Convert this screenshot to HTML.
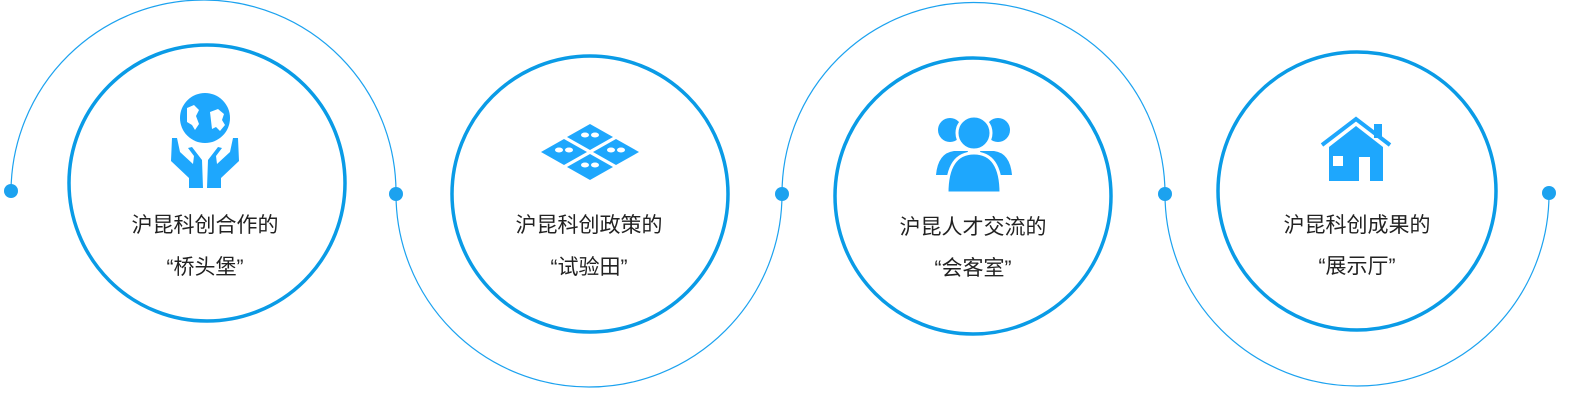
<!DOCTYPE html>
<html><head><meta charset="utf-8"><style>
html,body{margin:0;padding:0;background:#fff;width:1570px;height:400px;overflow:hidden}
svg text{font-family:"Liberation Sans","Noto Sans CJK SC",sans-serif;font-size:21px;fill:#222;text-anchor:middle}
</style></head><body>
<svg width="1570" height="400" viewBox="0 0 1570 400" xmlns="http://www.w3.org/2000/svg">
<g fill="none" stroke="#1ca2ef" stroke-width="1.2">
<path d="M11 191 A10 10 0 0 1 396 194"/>
<path d="M396 194 A10 10 0 0 0 782 194"/>
<path d="M782 194 A10 10 0 0 1 1165 194"/>
<path d="M1165 194 A10 10 0 0 0 1549 194"/>
</g>
<g fill="#1ca2ef">
<circle cx="11" cy="191" r="7"/><circle cx="396" cy="194" r="7"/><circle cx="782" cy="194" r="7"/><circle cx="1165" cy="194" r="7"/><circle cx="1549" cy="193" r="7"/>
</g>
<g fill="none" stroke="#0a9be6" stroke-width="3.5">
<circle cx="207" cy="183" r="138"/>
<circle cx="590" cy="194" r="138"/>
<circle cx="973" cy="196" r="138"/>
<circle cx="1357" cy="191" r="139"/>
</g>
<g fill="#1ea7fd">
<circle cx="205" cy="118" r="25"/>
<path d="M187 108 l7 -3 5 5 -3 6 3 8 -4 6 -3 -5 -5 -3z M210 112 l8 -3 6 5 -2 6 3 5 -5 6 -4 -4 -4 2z" fill="#fff"/>
<path d="M172 138 l5 0 3 14 13 12 1 -8 -6 -8 4 -1 10 13 1 28 -14 0 0 -10 -18 -17z"/>
<path d="M238 138 l-5 0 -3 14 -13 12 -1 -8 6 -8 -4 -1 -10 13 -1 28 14 0 0 -10 18 -17z"/>
<polygon points="590,124 613,137 590,150 567,137"/>
<polygon points="564,139 587,152 564,165 541,152"/>
<polygon points="616,139 639,152 616,165 593,152"/>
<polygon points="590,154 613,167 590,180 567,167"/>
<g fill="#fff"><ellipse cx="585" cy="135" rx="4" ry="2.5"/><ellipse cx="595" cy="135" rx="4" ry="2.5"/><ellipse cx="559" cy="150" rx="4" ry="2.5"/><ellipse cx="569" cy="150" rx="4" ry="2.5"/><ellipse cx="611" cy="150" rx="4" ry="2.5"/><ellipse cx="621" cy="150" rx="4" ry="2.5"/><ellipse cx="585" cy="165" rx="4" ry="2.5"/><ellipse cx="595" cy="165" rx="4" ry="2.5"/></g>
<circle cx="950" cy="130" r="12"/><circle cx="998" cy="130" r="12"/>
<path d="M936 175 q2 -22 18 -24 l14 0 -8 24z M1012 175 q-2 -22 -18 -24 l-14 0 8 24z"/>
<circle cx="974" cy="133" r="17" stroke="#fff" stroke-width="3"/>
<path d="M947 193 q0 -40 27 -40 q27 0 27 40z" stroke="#fff" stroke-width="3"/>
<path d="M1322 145 l34 -26 34 26" fill="none" stroke="#1ea7fd" stroke-width="4"/>
<rect x="1374" y="124" width="8" height="14"/>
<path d="M1329 147 l27 -21 27 21 0 34 -13 0 0 -24 -11 0 0 24 -30 0z"/>
<rect x="1333" y="156" width="10" height="10" fill="#fff"/>
</g>
<text x="205" y="232">沪昆科创合作的</text><text x="205" y="274">“桥头堡”</text>
<text x="589" y="232">沪昆科创政策的</text><text x="589" y="274">“试验田”</text>
<text x="973" y="234">沪昆人才交流的</text><text x="973" y="275">“会客室”</text>
<text x="1357" y="232">沪昆科创成果的</text><text x="1357" y="273">“展示厅”</text>
</svg>
</body></html>
